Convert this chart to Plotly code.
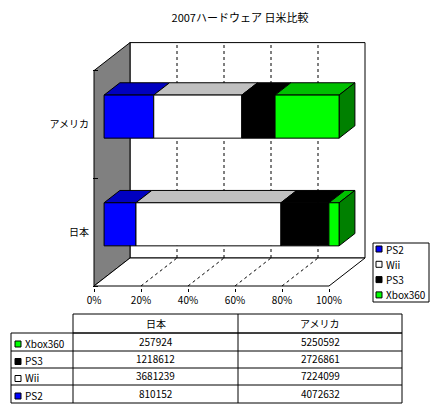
import plotly.graph_objects as go

# ------------------------------------------------------------
# data (units sold, 2007)
# ------------------------------------------------------------
regions = ["日本", "アメリカ"]
consoles = ["PS2", "Wii", "PS3", "Xbox360"]
ps2 = [810152, 4072632]
wii = [3681239, 7224099]
ps3 = [1218612, 2726861]
xbox360 = [257924, 5250592]
series = [ps2, wii, ps3, xbox360]

front_colors = ["#0000FF", "#FFFFFF", "#000000", "#00FF00"]
top_colors = ["#0000C0", "#C0C0C0", "#000000", "#00C000"]
side_colors = ["#000080", "#A0A0A0", "#000000", "#008000"]

pct_ticks = [0, 0.2, 0.4, 0.6, 0.8, 1.0]
pct_labels = ["0%", "20%", "40%", "60%", "80%", "100%"]

# ------------------------------------------------------------
# geometry of the fake 3D box (pixels of a 443x411 page)
# ------------------------------------------------------------
W, H = 443, 411
L, R, T, B = 93, 367, 41, 288          # plot area
X0PX, X1PX = 94, 329                   # 0% / 100% on the front plane
Y0PX, Y1PX = 286, 70.6                 # bottom / top of the front plane
sx = X1PX - X0PX
sy = (Y0PX - Y1PX) / 2
DX = 36 / sx                           # depth offset in data units
DY = 28 / sy
D0, D1 = 0.28, 0.72                    # bar front / back depth
HALF = 0.2                             # half bar thickness
xr = [(L - X0PX) / sx, (R - X0PX) / sx]
yr = [-0.5 - (B - Y0PX) / sy, -0.5 + (Y0PX - T) / sy]


def px(x):
    return (x - L) / (R - L)


def py(y):
    return (B - y) / (B - T)


def poly(pts):
    return "M " + " L ".join(f"{x},{y}" for x, y in pts) + " Z"


totals = [sum(s[i] for s in series) for i in range(len(regions))]
shares = [[s[i] / totals[i] for i in range(len(regions))] for s in series]
starts = []
acc = [0.0] * len(regions)
for sh in shares:
    starts.append(acc[:])
    acc = [a + b for a, b in zip(acc, sh)]

line = dict(color="black", width=1)
shapes = []
# back wall, left wall, floor
shapes.append(dict(type="rect", xref="x", yref="y", layer="below",
                   x0=DX, x1=1 + DX, y0=-0.5 + DY, y1=1.5 + DY,
                   fillcolor="white", line=line))
shapes.append(dict(type="path", xref="x", yref="y", layer="below",
                   path=poly([(0, -0.5), (DX, -0.5 + DY), (DX, 1.5 + DY), (0, 1.5)]),
                   fillcolor="#808080", line=line))
shapes.append(dict(type="path", xref="x", yref="y", layer="below",
                   path=poly([(0, -0.5), (1, -0.5), (1 + DX, -0.5 + DY), (DX, -0.5 + DY)]),
                   fillcolor="white", line=line))
# dashed gridlines
for p in pct_ticks[1:-1]:
    shapes.append(dict(type="line", xref="x", yref="y", layer="below",
                       x0=p + DX, x1=p + DX, y0=-0.5 + DY, y1=1.5 + DY,
                       line=dict(color="black", width=1, dash="3px,3px")))
    shapes.append(dict(type="line", xref="x", yref="y", layer="below",
                       x0=p, x1=p + DX, y0=-0.5, y1=-0.5 + DY,
                       line=dict(color="black", width=1, dash="3px,3px")))

# top faces and right side face of the bars
for i in range(len(regions)):
    top = i + HALF
    bot = i - HALF
    for k in range(len(series)):
        a = starts[k][i]
        b = a + shares[k][i]
        shapes.append(dict(type="path", xref="x", yref="y", layer="below",
                           path=poly([(a + D0 * DX, top + D0 * DY), (b + D0 * DX, top + D0 * DY),
                                      (b + D1 * DX, top + D1 * DY), (a + D1 * DX, top + D1 * DY)]),
                           fillcolor=top_colors[k], line=line))
    k = len(series) - 1
    b = starts[k][i] + shares[k][i]
    shapes.append(dict(type="path", xref="x", yref="y", layer="below",
                       path=poly([(b + D0 * DX, bot + D0 * DY), (b + D0 * DX, top + D0 * DY),
                                  (b + D1 * DX, top + D1 * DY), (b + D1 * DX, bot + D1 * DY)]),
                       fillcolor=side_colors[k], line=line))

fig = go.Figure()
for k, name in enumerate(consoles):
    fig.add_trace(go.Bar(
        name=name,
        orientation="h",
        y=[i + D0 * DY for i in range(len(regions))],
        x=shares[k],
        base=[s + D0 * DX for s in starts[k]],
        width=HALF * 2,
        marker=dict(color=front_colors[k], line=line),
        hoverinfo="skip",
        showlegend=False,
    ))

font = dict(family="Noto Sans CJK JP, sans-serif", size=10, color="black")
annotations = []

# ------------------------------------------------------------
# legend box (drawn by hand, Excel style)
# ------------------------------------------------------------
shapes.append(dict(type="rect", xref="paper", yref="paper",
                   x0=px(373), x1=px(429), y0=py(243), y1=py(302),
                   fillcolor="white", line=line))
for k, name in enumerate(consoles):
    ymid = 249 + k * 15.3
    shapes.append(dict(type="rect", xref="paper", yref="paper",
                       x0=px(376), x1=px(382), y0=py(ymid - 3), y1=py(ymid + 3),
                       fillcolor=front_colors[k], line=line))
    annotations.append(dict(xref="paper", yref="paper", showarrow=False, font=font,
                            x=px(384), y=py(ymid), text=name,
                            xanchor="left", yanchor="middle"))

# ------------------------------------------------------------
# data table under the chart
# ------------------------------------------------------------
cols = [11, 73, 238, 402]
rows = [314, 333, 351, 368, 385, 403]
shapes.append(dict(type="rect", xref="paper", yref="paper",
                   x0=px(cols[1]), x1=px(cols[3]), y0=py(rows[0]), y1=py(rows[1]), line=line))
shapes.append(dict(type="rect", xref="paper", yref="paper",
                   x0=px(cols[0]), x1=px(cols[3]), y0=py(rows[1]), y1=py(rows[-1]), line=line))
shapes.append(dict(type="line", xref="paper", yref="paper",
                   x0=px(cols[2]), x1=px(cols[2]), y0=py(rows[0]), y1=py(rows[-1]), line=line))
shapes.append(dict(type="line", xref="paper", yref="paper",
                   x0=px(cols[1]), x1=px(cols[1]), y0=py(rows[1]), y1=py(rows[-1]), line=line))
for r in rows[2:-1]:
    shapes.append(dict(type="line", xref="paper", yref="paper",
                       x0=px(cols[0]), x1=px(cols[3]), y0=py(r), y1=py(r), line=line))

for j, reg in enumerate(regions):
    annotations.append(dict(xref="paper", yref="paper", showarrow=False, font=font,
                            x=px((cols[j + 1] + cols[j + 2]) / 2), y=py((rows[0] + rows[1]) / 2),
                            text=reg, xanchor="center", yanchor="middle"))
table_order = list(range(len(consoles)))[::-1]
for r, k in enumerate(table_order):
    ymid = (rows[r + 1] + rows[r + 2]) / 2
    shapes.append(dict(type="rect", xref="paper", yref="paper",
                       x0=px(15), x1=px(21), y0=py(ymid + 5), y1=py(ymid - 1),
                       fillcolor=front_colors[k], line=line))
    annotations.append(dict(xref="paper", yref="paper", showarrow=False, font=font,
                            x=px(23), y=py(ymid + 1), text=consoles[k],
                            xanchor="left", yanchor="middle"))
    for j in range(len(regions)):
        annotations.append(dict(xref="paper", yref="paper", showarrow=False, font=font,
                                x=px((cols[j + 1] + cols[j + 2]) / 2), y=py(ymid - 1),
                                text=str(series[k][j]), xanchor="center", yanchor="middle"))

fig.update_layout(
    width=W, height=H,
    margin=dict(l=L, r=W - R, t=T, b=H - B, pad=0, autoexpand=False),
    paper_bgcolor="white", plot_bgcolor="rgba(0,0,0,0)",
    barmode="overlay",
    font=font,
    showlegend=False,
    title=dict(text="2007ハードウェア 日米比較", x=240 / W, y=1 - 18 / H,
               xanchor="center", yanchor="middle",
               font=dict(family="Noto Sans CJK JP, sans-serif", size=11, color="black")),
    xaxis=dict(range=xr, showgrid=False, zeroline=False, showline=False,
               tickvals=pct_ticks, ticktext=pct_labels, ticks="outside", ticklen=3,
               tickcolor="black", fixedrange=True, automargin=False),
    yaxis=dict(range=yr, showgrid=False, zeroline=False, showline=False,
               tickvals=list(range(len(regions))), ticktext=regions, ticks="",
               fixedrange=True, automargin=False, ticklabelstandoff=3,
               minor=dict(tickvals=[-0.5, 0.5, 1.5], ticks="inside", ticklen=5,
                          tickcolor="black", showgrid=False)),
    shapes=shapes,
    annotations=annotations,
)

fig.write_html("out.html", config={"displayModeBar": False},
               post_script="document.body.style.margin='0';")
